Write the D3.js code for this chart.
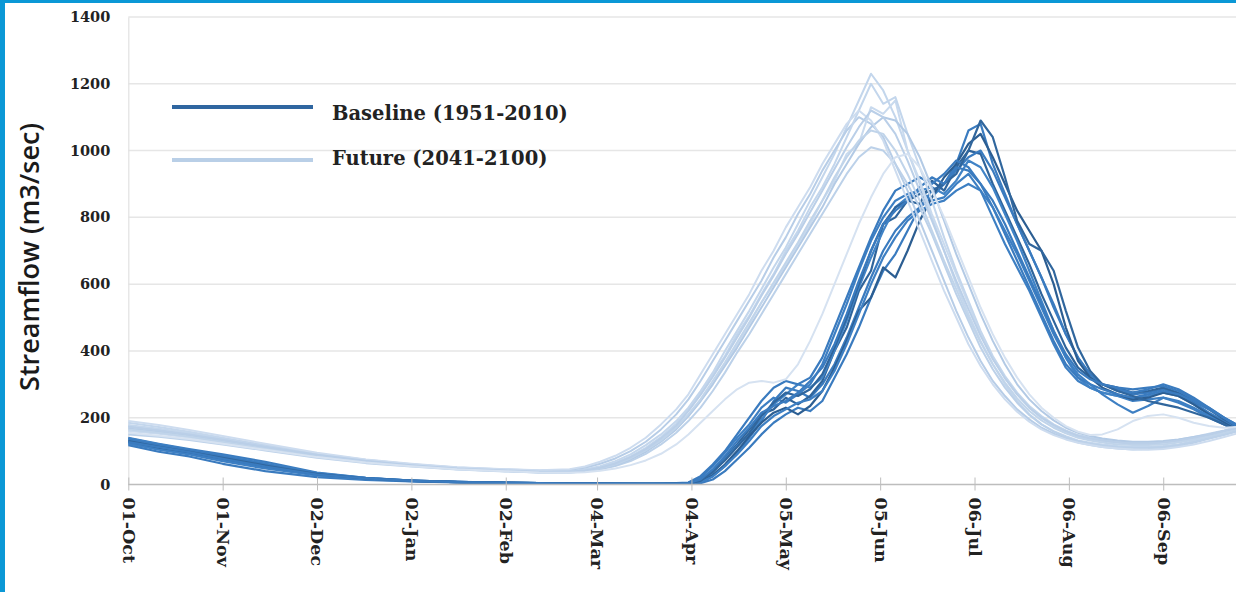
<!DOCTYPE html>
<html>
<head>
<meta charset="utf-8">
<script src="https://cdn.jsdelivr.net/npm/d3@7"></script>
<style>
  body { margin: 0; background: #fff; }
  svg { display: block; }
</style>
</head>
<body>
<svg id="chart"></svg>
<script>
// day of water year (0 = 01-Oct) for every sample
const days = [0, 10, 20, 31, 45, 62, 78, 93, 108, 124, 135, 145, 150, 155, 160, 165, 170, 175, 180,
  184, 188, 192, 196, 200, 204, 208, 212, 216, 220, 224, 228, 232, 236, 240, 244, 248, 252, 256, 260,
  264, 268, 272, 276, 280, 284, 288, 292, 296, 300, 304, 308, 312, 316, 320,
  325, 330, 335, 340, 345, 350, 355, 360, 364];

const tickDays = [0, 31, 62, 93, 124, 154, 185, 216, 247, 278, 309, 340];
const tickLabels = ["01-Oct", "01-Nov", "02-Dec", "02-Jan", "02-Feb", "04-Mar",
  "04-Apr", "05-May", "05-Jun", "06-Jul", "06-Aug", "06-Sep"];
const yTicks = [0, 200, 400, 600, 800, 1000, 1200, 1400];

// Baseline (1951-2010) runs, m3/sec
const baselineRuns = [
  [140,122,106,90,68,36,20,12,8,5,4,3,3,3,2,2,2,2,2,
   2,6,25,55,95,140,190,250,290,280,260,300,360,440,530,620,700,760,800,830,
   860,900,960,1060,1080,960,870,780,700,620,540,450,380,330,300,
   280,270,275,285,270,245,215,190,170],
  [125,108,94,74,52,29,17,11,7,5,4,3,3,2,2,2,2,2,2,
   5,20,55,95,140,180,230,260,245,270,300,360,450,540,640,730,800,850,870,880,
   850,860,900,930,880,800,720,650,580,500,420,350,310,290,275,
   265,250,255,260,245,225,200,180,160],
  [132,115,100,82,60,32,19,12,8,5,4,3,3,3,3,2,2,2,3,
   3,12,40,80,120,165,210,225,260,240,265,310,400,470,580,640,780,800,850,840,
   910,880,950,1000,990,900,820,740,660,570,490,410,350,320,300,
   290,275,280,290,275,250,225,195,175],
  [118,98,84,62,40,22,14,9,6,4,3,3,2,2,2,2,2,2,2,
   2,4,15,40,75,110,150,185,210,230,220,250,320,390,470,560,640,690,760,830,
   880,900,940,980,1000,940,860,780,700,620,530,450,380,330,300,
   285,275,285,300,285,260,230,200,180],
  [138,120,104,86,63,34,20,12,8,6,4,4,3,3,3,3,2,2,3,
   3,10,35,75,115,150,195,240,270,300,290,320,400,490,590,680,760,830,860,880,
   890,870,910,970,950,890,810,730,640,550,460,380,320,290,275,
   265,260,265,275,265,240,210,185,165],
  [128,110,96,78,56,31,18,11,7,5,4,3,3,3,2,2,2,2,2,
   2,8,28,60,100,145,185,215,230,210,235,280,350,430,520,560,650,620,700,790,
   860,920,960,1020,1050,980,900,820,760,700,600,470,370,320,290,
   270,255,260,275,265,240,210,185,165],
  [135,118,103,84,61,33,19,12,8,5,4,3,3,3,3,2,2,3,4,
   6,25,60,100,150,200,250,290,310,300,320,380,470,560,650,740,820,880,900,920,
   900,930,970,950,900,830,750,670,590,510,430,360,320,300,285,
   270,260,270,280,270,250,225,200,180],
  [122,104,90,70,48,27,16,10,7,4,3,3,3,2,2,2,2,2,2,
   2,7,24,55,90,130,175,205,225,245,255,280,340,420,510,600,680,740,790,820,
   840,850,880,900,880,830,760,690,610,530,450,380,330,300,270,
   240,215,235,260,250,230,205,180,160],
  [130,113,98,80,57,31,18,11,7,5,4,3,3,3,2,2,2,2,3,
   3,11,38,72,112,155,205,245,275,265,285,330,410,500,600,700,780,830,850,870,
   880,900,930,1000,1090,1040,920,790,720,700,640,520,410,340,300,
   280,265,250,240,230,215,200,180,160],
  [127,112,97,77,54,30,18,11,7,5,4,3,3,3,2,2,2,2,2,
   4,15,45,85,130,170,215,235,250,275,310,350,420,510,610,700,780,820,850,890,
   920,900,950,940,900,850,780,700,620,540,460,390,340,315,300,
   290,285,290,295,280,255,230,200,175]
];

// Future (2041-2100) runs, m3/sec
const futureRuns = [
  [185,172,158,140,118,92,72,60,50,43,39,40,45,55,70,90,118,150,190,
   230,280,335,400,460,520,585,650,710,780,850,920,990,1070,1150,1230,1180,1100,1000,900,
   800,700,600,510,430,360,300,250,210,180,160,145,132,125,120,
   115,112,112,115,120,130,140,150,160],
  [175,165,152,136,116,92,74,61,51,45,42,44,50,62,78,100,128,165,210,
   255,310,370,430,490,550,610,680,740,810,870,940,1000,1060,1100,1080,1040,960,880,790,
   700,610,520,440,370,310,265,225,195,170,152,138,126,118,112,
   108,105,106,110,116,125,138,150,160],
  [160,152,141,126,107,84,67,56,47,41,37,37,41,48,60,77,100,130,168,
   205,250,300,360,420,480,545,600,660,720,780,850,910,990,1020,1130,1110,1150,1000,910,
   810,720,630,540,450,380,320,270,230,200,175,158,143,135,130,
   125,122,122,125,130,138,148,158,168],
  [150,143,133,120,102,80,64,54,45,39,36,36,39,45,55,70,92,120,155,
   190,230,280,335,395,450,510,570,630,690,750,810,870,930,980,1010,1000,960,900,830,
   750,660,570,490,410,345,290,245,208,180,158,142,130,122,117,
   112,110,110,112,118,127,138,148,158],
  [178,167,154,137,115,90,71,59,49,43,39,39,43,52,65,84,110,142,182,
   225,275,330,385,450,505,570,630,700,760,830,890,960,1040,1120,1200,1140,1160,1050,950,
   850,740,640,550,460,385,325,275,235,205,180,162,148,140,134,
   128,125,125,128,134,142,152,162,172],
  [168,158,146,130,110,86,69,57,47,41,37,37,40,47,58,75,98,128,165,
   205,250,300,355,410,470,530,590,650,710,770,830,900,960,1020,1070,1100,1090,1050,980,
   890,790,690,600,510,430,360,300,255,220,192,170,155,145,138,
   132,128,128,130,135,142,150,160,168],
  [190,178,163,145,122,95,75,62,52,46,43,46,54,68,86,110,140,180,225,
   270,330,390,450,510,570,640,700,770,830,890,960,1020,1080,1120,1090,1030,940,850,760,
   670,580,500,420,355,300,255,218,188,165,148,135,125,118,112,
   108,105,104,106,112,120,130,142,152],
  [165,155,144,128,108,85,68,56,46,40,36,36,40,48,60,78,102,132,170,
   210,255,310,365,425,485,545,605,665,725,790,850,920,980,1030,1060,1050,1000,930,850,
   760,670,585,500,425,360,305,258,220,192,170,153,140,132,126,
   120,118,118,120,126,134,144,154,164],
  [172,162,150,134,113,89,71,58,48,42,38,38,42,50,63,82,106,138,176,
   220,268,322,380,440,500,565,625,690,750,815,880,945,1010,1070,1120,1100,1050,970,880,
   790,700,610,525,445,375,318,270,230,200,178,160,146,138,132,
   126,123,123,126,132,140,150,160,170],
  [155,146,136,122,104,82,66,55,46,40,36,35,37,41,48,58,72,92,120,
   150,185,220,255,285,305,310,305,315,360,430,510,600,690,780,860,930,980,990,950,
   880,800,710,620,530,450,380,320,270,230,200,175,158,148,150,
   165,190,205,210,200,185,175,170,172]
];

const baselineColors = ["#3a7bbf", "#3d7fc3", "#2f649b", "#3a7bbf", "#4083c6",
  "#2c5e92", "#3a7bbf", "#3d7fc3", "#30669d", "#3a7bbf"];
const futureColors = ["#c3d6ec", "#b7cde7", "#c9daee", "#bcd1e9", "#c3d6ec",
  "#b3cae5", "#cddcef", "#c0d4ea", "#bacfe8", "#d6e2f1"];

const width = 1236;
const height = 592;

const svg = d3
  .select("#chart")
  .attr("width", width)
  .attr("height", height)
  .attr("viewBox", `0 0 ${width} ${height}`);

const x = d3.scaleLinear().domain([0, 364]).range([128.3, 1236.3]);
const y = d3.scaleLinear().domain([0, 1400]).range([484.5, 17]);

// horizontal gridlines
svg
  .append("g")
  .selectAll("line")
  .data(yTicks.filter((d) => d > 0))
  .join("line")
  .attr("x1", x(0))
  .attr("x2", width)
  .attr("y1", (d) => y(d))
  .attr("y2", (d) => y(d))
  .attr("stroke", "#e6e6e6")
  .attr("stroke-width", 1.5);

// y axis
const yAxis = svg
  .append("g")
  .attr("transform", `translate(${x(0)},0)`)
  .call(
    d3.axisLeft(y).tickValues(yTicks).tickFormat(d3.format("d")).tickSize(0).tickPadding(18)
  );
yAxis.select(".domain").attr("stroke", "#e2e2e2").attr("stroke-width", 1.2);
yAxis
  .selectAll("text")
  .style("font-family", "'DejaVu Serif', serif")
  .style("font-weight", "bold")
  .style("font-size", "14.5px")
  .attr("fill", "#222");

const line = d3
  .line()
  .x((d, i) => x(days[i]))
  .y((d) => y(d));

// baseline first, future drawn over it
svg
  .append("g")
  .selectAll("path")
  .data(baselineRuns)
  .join("path")
  .attr("d", line)
  .attr("fill", "none")
  .attr("stroke", (d, i) => baselineColors[i])
  .attr("stroke-width", 2.2)
  .attr("stroke-linejoin", "round");

svg
  .append("g")
  .selectAll("path")
  .data(futureRuns)
  .join("path")
  .attr("d", line)
  .attr("fill", "none")
  .attr("stroke", (d, i) => futureColors[i])
  .attr("stroke-width", 2)
  .attr("stroke-linejoin", "round");

// x axis with rotated date labels
const xAxis = svg
  .append("g")
  .attr("transform", `translate(0,${y(0)})`)
  .call(
    d3
      .axisBottom(x)
      .tickValues(tickDays)
      .tickFormat((d, i) => tickLabels[i])
      .tickSizeOuter(0)
  );
xAxis.select(".domain").attr("stroke", "#bdbdbd").attr("stroke-width", 1.5)
  .attr("d", `M${x(0)},0H${width}`);
xAxis.selectAll(".tick line").attr("y1", -7).attr("y2", 6).attr("stroke", "#bdbdbd");
xAxis
  .selectAll(".tick text")
  .attr("transform", "rotate(90)")
  .attr("x", 13)
  .attr("y", 0)
  .attr("dy", "0.35em")
  .style("text-anchor", "start")
  .style("font-family", "'DejaVu Serif', serif")
  .style("font-weight", "bold")
  .style("font-size", "17.5px")
  .attr("fill", "#222");

// y axis title
svg
  .append("text")
  .attr("transform", "translate(39,257) rotate(-90)")
  .attr("text-anchor", "middle")
  .style("font-family", "'Open Sans', sans-serif")
  .style("font-weight", 600)
  .style("font-size", "27px")
  .attr("fill", "#1a1a1a")
  .text("Streamflow (m3/sec)");

// legend
const legendItems = [
  { label: "Baseline (1951-2010)", color: "#2f66a0", y: 107, ty: 113 },
  { label: "Future (2041-2100)", color: "#b9cfe7", y: 160, ty: 158 }
];
const legend = svg.append("g");
legend
  .selectAll("line")
  .data(legendItems)
  .join("line")
  .attr("x1", 172)
  .attr("x2", 313)
  .attr("y1", (d) => d.y)
  .attr("y2", (d) => d.y)
  .attr("stroke", (d) => d.color)
  .attr("stroke-width", 4);
legend
  .selectAll("text")
  .data(legendItems)
  .join("text")
  .attr("x", 332)
  .attr("y", (d) => d.ty)
  .attr("dy", "0.35em")
  .style("font-family", "'DejaVu Serif', serif")
  .style("font-weight", "bold")
  .style("font-size", "19.5px")
  .attr("fill", "#222")
  .text((d) => d.label);

// frame accent from the source page
svg.append("rect").attr("x", 0).attr("y", 0).attr("width", width).attr("height", 3).attr("fill", "#0b98d6");
svg.append("rect").attr("x", 0).attr("y", 0).attr("width", 5).attr("height", height).attr("fill", "#0b98d6");
</script>
</body>
</html>
